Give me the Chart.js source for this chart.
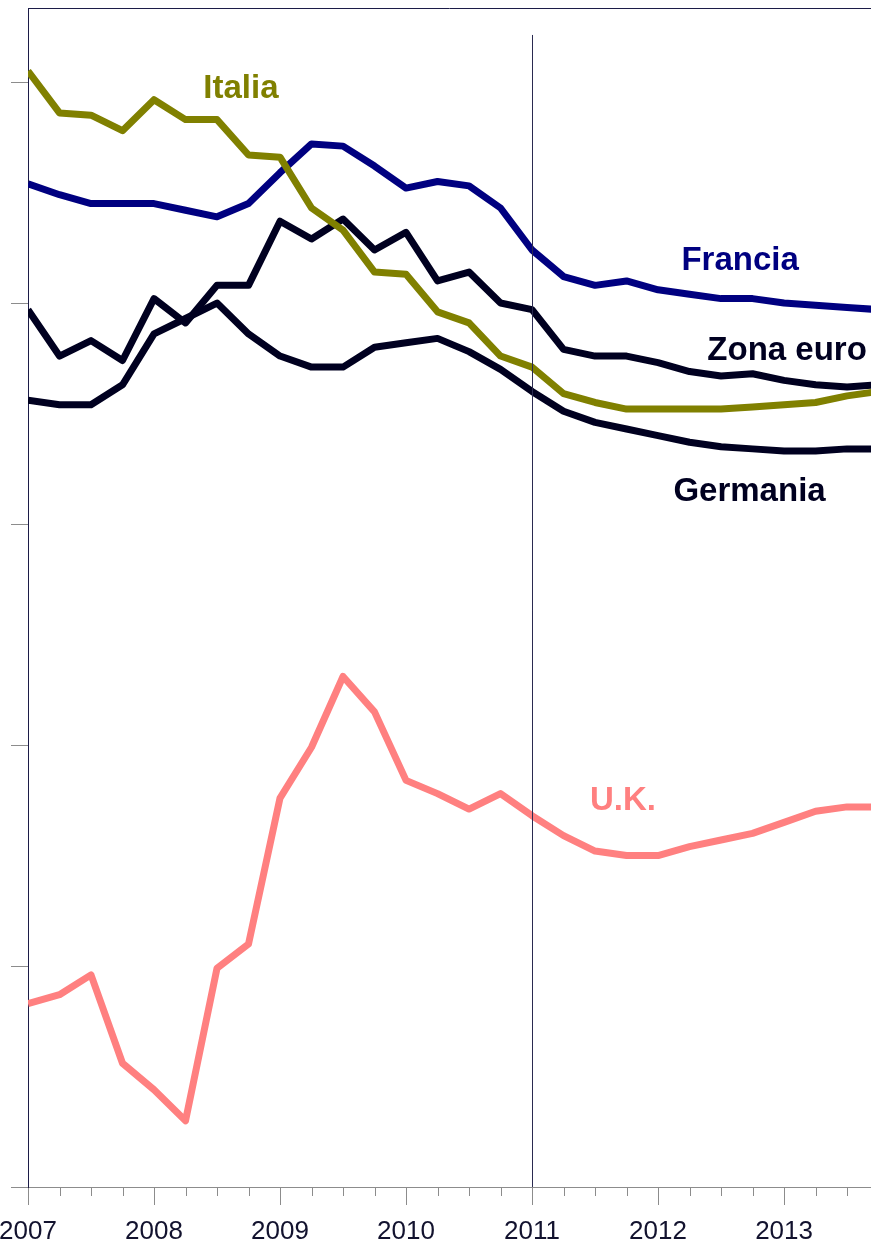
<!DOCTYPE html>
<html><head><meta charset="utf-8">
<script src="https://cdn.jsdelivr.net/npm/chart.js@4/dist/chart.umd.min.js"></script>
<style>html,body{margin:0;padding:0;background:#fff;overflow:hidden}</style>
</head><body>
<canvas id="c" width="871" height="1248"></canvas>
<script>
// ---- data (quarterly, 2007Q1 .. 2013Q4) ----
const quarters = [2007,2007.25,2007.5,2007.75,2008,2008.25,2008.5,2008.75,2009,2009.25,2009.5,2009.75,
  2010,2010.25,2010.5,2010.75,2011,2011.25,2011.5,2011.75,2012,2012.25,2012.5,2012.75,2013,2013.25,2013.5,2013.75];
const italia = [5.05,4.86,4.85,4.78,4.92,4.83,4.83,4.67,4.66,4.43,4.33,4.14,4.13,3.96,3.91,3.76,3.71,3.59,3.55,3.52,3.52,3.52,3.52,3.53,3.54,3.55,3.58,3.60];
const francia = [4.54,4.49,4.45,4.45,4.45,4.42,4.39,4.45,4.59,4.72,4.71,4.62,4.52,4.55,4.53,4.43,4.24,4.12,4.08,4.10,4.06,4.04,4.02,4.02,4.00,3.99,3.98,3.97];
const zonaEuro = [3.97,3.76,3.83,3.74,4.02,3.91,4.08,4.08,4.37,4.29,4.38,4.24,4.32,4.10,4.14,4.00,3.97,3.79,3.76,3.76,3.73,3.69,3.67,3.68,3.65,3.63,3.62,3.63];
const germania = [3.56,3.54,3.54,3.63,3.86,3.93,4.00,3.86,3.76,3.71,3.71,3.80,3.82,3.84,3.78,3.70,3.60,3.51,3.46,3.43,3.40,3.37,3.35,3.34,3.33,3.33,3.34,3.34];
const uk = [0.83,0.87,0.96,0.56,0.44,0.30,0.99,1.10,1.76,1.99,2.31,2.15,1.84,1.78,1.71,1.78,1.68,1.59,1.52,1.50,1.50,1.54,1.57,1.60,1.65,1.70,1.72,1.72];

const yearTicks = [2007,2008,2009,2010,2011,2012,2013];
const yTickValues = [0,1,2,3,4,5];
const xMin = 2007, xMax = 2013.69;
const yMin = 0, yMax = 5.335;

const seriesNames = ['Italia','Germania','Zona euro','Francia','U.K.'];
const seriesData = [italia, germania, zonaEuro, francia, uk];
const seriesColors = ['#808000','#000020','#000020','#000080','#ff8080'];

// series name labels (data units: x = year, y = value at text baseline)
const labelTexts = ['Italia','Francia','Zona euro','Germania','U.K.'];
const labelX = [2008.69, 2012.651, 2013.024, 2012.726, 2011.722];
const labelY = [4.928, 4.149, 3.742, 3.104, 1.706];
const labelColors = ['#808000','#000080','#000020','#000020','#ff8080'];

const dividerYear = 2011, dividerTop = 5.213;

const datasets = seriesNames.map((n,i)=>({
  label:n,
  data: quarters.map((q,j)=>({x:q,y:seriesData[i][j]})),
  borderColor: seriesColors[i],
  backgroundColor: seriesColors[i],
  borderWidth:7, pointRadius:0, tension:0,
  borderJoinStyle:'round', borderCapStyle:'butt', fill:false
}));

const overlay = {
  id:'overlay',
  afterDatasetsDraw(chart){
    const ctx = chart.ctx, xs = chart.scales.x, ys = chart.scales.y, ca = chart.chartArea;
    ctx.save();
    // top border
    ctx.strokeStyle = '#1c1c48'; ctx.lineWidth = 1;
    ctx.beginPath(); ctx.moveTo(ca.left, Math.round(ca.top)+0.5); ctx.lineTo(ca.right, Math.round(ca.top)+0.5); ctx.stroke();
    // divider line
    const dx = Math.round(xs.getPixelForValue(dividerYear))+0.5;
    ctx.strokeStyle = '#2a2a50';
    ctx.beginPath(); ctx.moveTo(dx, ys.getPixelForValue(dividerTop)); ctx.lineTo(dx, ca.bottom); ctx.stroke();
    // quarter minor ticks
    ctx.strokeStyle = '#8c8c8c';
    quarters.forEach(q=>{
      if (Number.isInteger(q)) return;
      const px = Math.round(xs.getPixelForValue(q))+0.5;
      if (px > ca.right) return;
      ctx.beginPath(); ctx.moveTo(px, ca.bottom); ctx.lineTo(px, ca.bottom+9); ctx.stroke();
    });
    // series labels
    ctx.font = 'bold 33px "Liberation Sans", Arial, sans-serif';
    ctx.textAlign = 'center'; ctx.textBaseline = 'alphabetic';
    labelTexts.forEach((t,i)=>{
      ctx.fillStyle = labelColors[i];
      ctx.fillText(t, xs.getPixelForValue(labelX[i]), ys.getPixelForValue(labelY[i]));
    });
    ctx.restore();
  }
};

new Chart(document.getElementById('c'), {
  type:'line',
  data:{datasets},
  plugins:[overlay],
  options:{
    responsive:false, animation:false, devicePixelRatio:1,
    layout:{padding:{top:8,left:0,right:0,bottom:0}},
    plugins:{legend:{display:false}, tooltip:{enabled:false}},
    scales:{
      x:{
        type:'linear', min:xMin, max:xMax,
        afterBuildTicks(s){ s.ticks = yearTicks.map(v=>({value:v})); },
        ticks:{autoSkip:false, maxRotation:0, color:'#12122e', padding:11,
          font:{family:'"Liberation Sans", Arial, sans-serif', size:26},
          callback:(v)=>String(v)},
        grid:{drawOnChartArea:false, drawTicks:true, tickLength:18, color:'#8c8c8c'},
        border:{color:'#8c8c8c', width:1},
        afterFit(s){ s.height = 61; s.paddingLeft = 0; s.paddingRight = 0; }
      },
      y:{
        type:'linear', min:yMin, max:yMax,
        afterBuildTicks(s){ s.ticks = yTickValues.map(v=>({value:v})); },
        ticks:{display:false},
        grid:{drawOnChartArea:false, drawTicks:true, tickLength:17, color:'#8c8c8c'},
        border:{color:'#1c1c48', width:1},
        afterFit(s){ s.width = 28; s.paddingTop = 0; s.paddingBottom = 0; }
      }
    }
  }
});
</script>
</body></html>
